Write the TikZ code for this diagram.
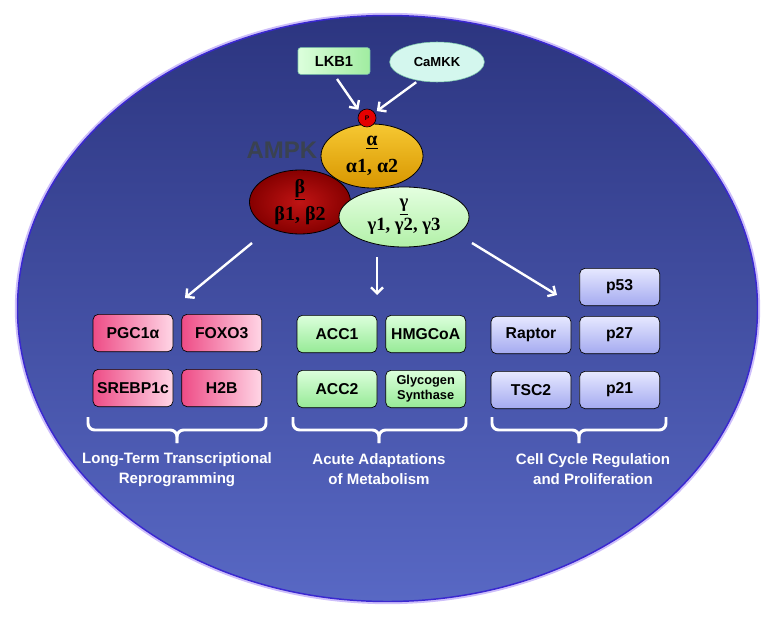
\documentclass[tikz,border=0pt]{standalone}
\usepackage{fontspec}
\setmainfont{Liberation Sans}
\newfontfamily\greekfont{Liberation Serif}
\usepackage{xcolor}
\usetikzlibrary{shapes,arrows.meta,positioning}

\definecolor{cellTop}{HTML}{2C3580}
\definecolor{cellBot}{HTML}{5868C4}
\definecolor{cellEdge}{HTML}{3A28D0}
\definecolor{cellGlow}{HTML}{CDBEFA}
\definecolor{pinkDark}{HTML}{EE4C86}
\definecolor{pinkLight}{HTML}{FFD6E6}
\definecolor{greenDark}{HTML}{96EA96}
\definecolor{greenLight}{HTML}{DCFFDC}
\definecolor{lilacDark}{HTML}{A4AAF0}
\definecolor{lilacLight}{HTML}{E6E8FF}
\definecolor{goldTop}{HTML}{F6C832}
\definecolor{goldBot}{HTML}{D89600}
\definecolor{redIn}{HTML}{C01414}
\definecolor{redOut}{HTML}{860000}
\definecolor{mintTop}{HTML}{E4FFE0}
\definecolor{mintBot}{HTML}{B2F0A8}
\definecolor{camFill}{HTML}{D4F7EE}
\definecolor{camEdge}{HTML}{7CC8AA}
\definecolor{ampkGray}{HTML}{3A4250}

\begin{document}
\begin{tikzpicture}[
    x=0.75pt, y=-0.75pt,
    node distance=12.75pt and 6pt,
    gene/.style={rectangle, rounded corners=4pt, draw=black, line width=0.5pt, minimum width=60pt, minimum height=28pt, align=center, inner sep=1pt, font=\bfseries\fontsize{11.8}{13}\selectfont},
    tf/.style={gene, left color=pinkDark, right color=pinkLight},
    met/.style={gene, top color=greenLight, bottom color=greenDark},
    cyc/.style={gene, top color=lilacLight, bottom color=lilacDark},
    sub/.style={ellipse, draw=black, line width=0.6pt, align=center, inner sep=0pt, font=\greekfont\bfseries\fontsize{15}{20}\selectfont},
    arrow/.style={-{Straight Barb[length=4.5pt,width=9pt]}, white, line width=1.8pt},
    bracket/.style={white, line width=2.2pt, rounded corners=5pt},
    caption/.style={text=white, align=center, inner sep=0pt, font=\bfseries\fontsize{11.3}{15}\selectfont}
]
\useasboundingbox (0,0) rectangle (775,617);

% cell background
\node[ellipse, minimum width=555pt, minimum height=439.5pt, top color=cellTop, bottom color=cellBot,
      draw=cellEdge, line width=1.1pt, preaction={draw=cellGlow, line width=4pt}] (cell) at (387.5,308.5) {};

% upstream kinases
\node[rectangle, rounded corners=2pt, draw=camEdge, left color=greenLight, right color=greenDark!90,
      minimum width=54pt, minimum height=20pt, font=\bfseries\fontsize{11}{13}\selectfont] (lkb1) at (334,61) {LKB1};
\node[ellipse, draw=camEdge, fill=camFill, minimum width=71pt, minimum height=30pt, inner sep=0pt,
      font=\bfseries\fontsize{9.8}{12}\selectfont] (camkk) at (437,62) {CaMKK};

% AMPK subunits
\node[sub, minimum width=76.5pt, minimum height=48pt, top color=goldTop, bottom color=goldBot] (alpha) at (372,156) {\underline{α}\\α1, α2};
\node[sub, minimum width=75.75pt, minimum height=48pt, inner color=redIn, outer color=redOut] (beta) at (300,202) {\underline{β}\\β1, β2};
\node[sub, minimum width=97.5pt, minimum height=45pt, top color=mintTop, bottom color=mintBot,
      font=\greekfont\bfseries\fontsize{14}{17}\selectfont] (gamma) at (404,217) {\underline{γ}\\γ1, γ2, γ3};
\node[circle, draw=black, line width=0.5pt, fill=red!90!black, minimum size=13.5pt, inner sep=0pt,
      font=\bfseries\fontsize{5}{5}\selectfont] (p) at (367,118) {P};
\node[text=ampkGray, font=\bfseries\fontsize{18}{20}\selectfont] (ampk) at (282,150) {AMPK};

\draw[arrow, shorten <=4pt, shorten >=2pt] (lkb1.south) -- (p.140);
\draw[arrow, shorten <=2pt, shorten >=2pt] (camkk.225) -- (p.35);

% downstream targets
\node[tf] (pgc) at (133,333) {PGC1α};
\node[tf, right=of pgc] (foxo) {FOXO3};
\node[tf, below=of pgc] (srebp) {SREBP1c};
\node[tf, right=of srebp] (h2b) {H2B};

\node[met] (acc1) at (337,334) {ACC1};
\node[met, right=of acc1] (hmg) {HMGCoA};
\node[met, below=of acc1] (acc2) {ACC2};
\node[met, right=of acc2, font=\bfseries\fontsize{9.6}{11.5}\selectfont] (gys) {Glycogen\\Synthase};

\node[cyc] (raptor) at (531,335) {Raptor};
\node[cyc, right=of raptor] (p27) {p27};
\node[cyc, above=7.5pt of p27] (p53) {p53};
\node[cyc, below=of raptor] (tsc2) {TSC2};
\node[cyc, right=of tsc2] (p21) {p21};

% arrows from the complex
\coordinate (sL) at (252,243);
\coordinate (tL) at (185,298);
\coordinate (sM) at (377,257);
\coordinate (tM) at (377,295);
\coordinate (sR) at (472,243);
\coordinate (tR) at (557,295);
\draw[arrow] (sL) -- (tL);
\draw[arrow] (sM) -- (tM);
\draw[arrow] (sR) -- (tR);

% brackets
\coordinate (tip1) at (177,443);
\coordinate (tip2) at (379,443);
\coordinate (tip3) at (579,443);
\draw[bracket] (88,417) |- (177,430) -- (tip1);
\draw[bracket] (266,417) |- (177,430) -- (tip1);
\draw[bracket] (293,417) |- (379,430) -- (tip2);
\draw[bracket] (466,417) |- (379,430) -- (tip2);
\draw[bracket] (492,417) |- (579,430) -- (tip3);
\draw[bracket] (666,417) |- (579,430) -- (tip3);

\node[caption, below=7pt of tip1] (cap1) {Long-Term Transcriptional\\Reprogramming};
\node[caption, below=8pt of tip2] (cap2) {Acute Adaptations\\of Metabolism};
\node[caption, below=8pt of tip3, xshift=10.5pt] (cap3) {Cell Cycle Regulation\\and Proliferation};
\end{tikzpicture}
\end{document}
